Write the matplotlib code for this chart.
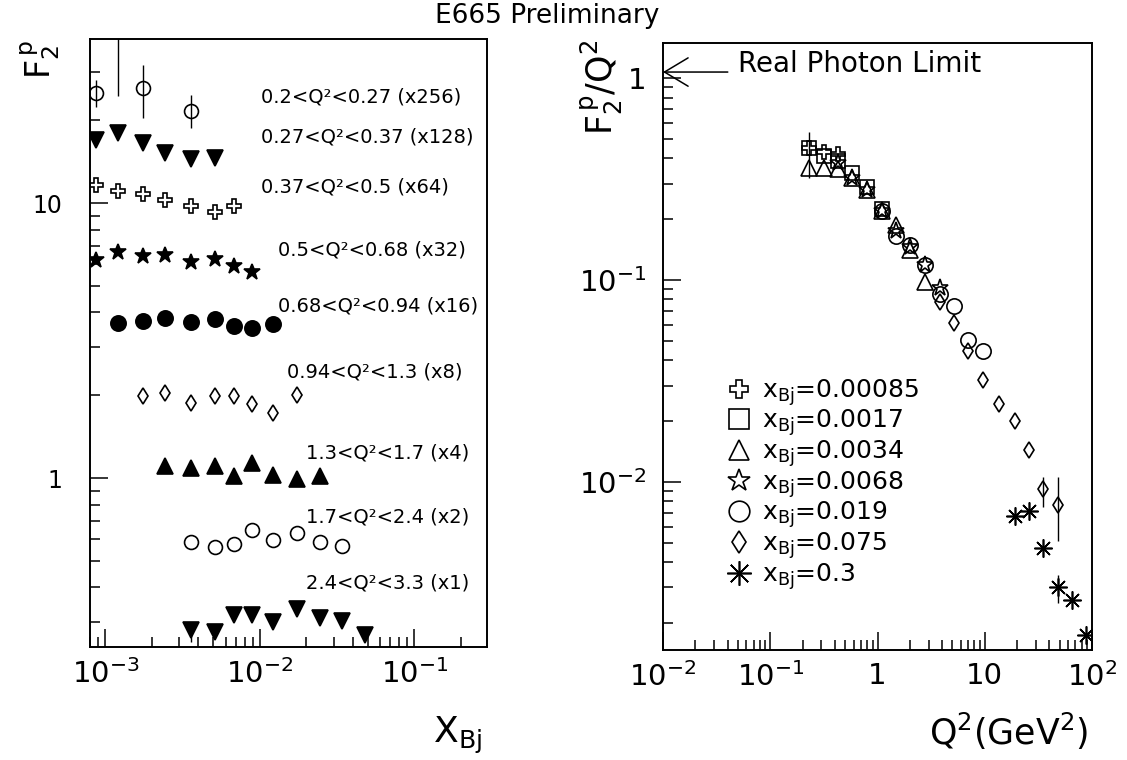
import numpy as np
import matplotlib
matplotlib.use("Agg")
import matplotlib.pyplot as plt
from matplotlib.ticker import FixedLocator, FixedFormatter, LogLocator, NullFormatter

plt.rcParams['font.family'] = ['DejaVu Sans']
plt.rcParams['mathtext.default'] = 'regular'

# ---------------- Left panel data: F2 vs x_Bj in Q^2 bins (scaled) ----------------
bin_labels = ["0.2<Q²<0.27 (x256)", "0.27<Q²<0.37 (x128)", "0.37<Q²<0.5 (x64)",
              "0.5<Q²<0.68 (x32)", "0.68<Q²<0.94 (x16)", "0.94<Q²<1.3 (x8)",
              "1.3<Q²<1.7 (x4)", "1.7<Q²<2.4 (x2)", "2.4<Q²<3.3 (x1)"]

x_b1 = [0.00087, 0.00121, 0.00175, 0.0036]
f2_b1 = [25.1, 50.0, 26.2, 21.6]
elo_b1 = [2.8, 25.5, 5.8, 2.9]
ehi_b1 = [2.9, 20.0, 5.6, 3.1]

x_b2 = [0.00087, 0.00121, 0.00175, 0.00242, 0.0036, 0.0051]
f2_b2 = [16.9, 18.0, 16.6, 15.2, 14.5, 14.6]

x_b3 = [0.00087, 0.00121, 0.00175, 0.00242, 0.0036, 0.0051, 0.0068]
f2_b3 = [11.6, 11.1, 10.8, 10.3, 9.75, 9.27, 9.75]

x_b4 = [0.00087, 0.00121, 0.00175, 0.00242, 0.0036, 0.0051, 0.0068, 0.0089]
f2_b4 = [6.2, 6.63, 6.41, 6.47, 6.1, 6.26, 5.9, 5.61]

x_b5 = [0.00121, 0.00175, 0.00242, 0.0036, 0.0051, 0.0068, 0.0089, 0.0121]
f2_b5 = [3.66, 3.72, 3.82, 3.69, 3.79, 3.57, 3.51, 3.63]

x_b6 = [0.00175, 0.00242, 0.0036, 0.0051, 0.0068, 0.0089, 0.0121, 0.0173]
f2_b6 = [1.98, 2.04, 1.87, 1.98, 1.98, 1.86, 1.73, 2.0]

x_b7 = [0.00242, 0.0036, 0.0051, 0.0068, 0.0089, 0.0121, 0.0173, 0.0245]
f2_b7 = [1.106, 1.084, 1.106, 1.017, 1.137, 1.025, 0.989, 1.017]

x_b8 = [0.0036, 0.0051, 0.0068, 0.0089, 0.0121, 0.0173, 0.0245, 0.034]
f2_b8 = [0.587, 0.5625, 0.575, 0.647, 0.595, 0.629, 0.584, 0.568]

x_b9 = [0.0036, 0.0051, 0.0068, 0.0089, 0.0121, 0.0173, 0.0245, 0.034, 0.048]
f2_b9 = [0.280, 0.276, 0.318, 0.318, 0.299, 0.333, 0.311, 0.303, 0.269]
elo_b9 = [0.026, 0, 0, 0, 0, 0, 0, 0, 0]
ehi_b9 = [0.020, 0, 0, 0, 0, 0, 0, 0, 0]

left_x_ticks = [1e-3, 1e-2, 1e-1]
left_x_ticklabels = [r'$10^{-3}$', r'$10^{-2}$', r'$10^{-1}$']
left_y_ticks = [1, 10]
left_y_ticklabels = ['1', '10']

# ---------------- Right panel data: F2/Q^2 vs Q^2 at fixed x_Bj ----------------
xbj_labels = [r'$x_{Bj}$=0.00085', r'$x_{Bj}$=0.0017', r'$x_{Bj}$=0.0034',
              r'$x_{Bj}$=0.0068', r'$x_{Bj}$=0.019', r'$x_{Bj}$=0.075', r'$x_{Bj}$=0.3']

q2_a = [0.23, 0.32, 0.43]
r_a = [0.45, 0.43, 0.42]
elo_a = [0.13, 0, 0]
ehi_a = [0.09, 0, 0]

q2_b = [0.23, 0.32, 0.43, 0.58, 0.80, 1.1]
r_b = [0.45, 0.41, 0.39, 0.34, 0.29, 0.225]

q2_c = [0.23, 0.32, 0.43, 0.58, 0.80, 1.1, 1.5, 2.0, 2.8]
r_c = [0.36, 0.36, 0.355, 0.32, 0.28, 0.22, 0.187, 0.141, 0.098]

q2_d = [0.43, 0.58, 0.80, 1.1, 1.5, 2.0, 2.8, 3.8]
r_d = [0.38, 0.32, 0.28, 0.22, 0.175, 0.145, 0.118, 0.091]

q2_e = [1.1, 1.5, 2.0, 2.8, 3.8, 5.2, 7.0, 9.6]
r_e = [0.22, 0.165, 0.149, 0.119, 0.085, 0.074, 0.0505, 0.0443]

q2_f = [3.8, 5.2, 7.0, 9.6, 13.5, 19, 26, 35, 48]
r_f = [0.078, 0.061, 0.0443, 0.0318, 0.0244, 0.0201, 0.0143, 0.0092, 0.0077]
elo_f = [0, 0, 0, 0, 0, 0, 0, 0.0017, 0.0026]
ehi_f = [0, 0, 0, 0, 0, 0, 0, 0.0014, 0.0029]

q2_g = [19, 26, 35, 48, 65, 87]
r_g = [0.0068, 0.0072, 0.0047, 0.0030, 0.0026, 0.00175]
elo_g = [0, 0, 0, 0.0005, 0, 0]
ehi_g = [0, 0, 0, 0.00047, 0, 0]

photon_limit = 1.07

right_x_ticks = [1e-2, 1e-1, 1, 10, 100]
right_x_ticklabels = [r'$10^{-2}$', r'$10^{-1}$', '1', '10', r'$10^{2}$']
right_y_ticks = [1e-2, 1e-1, 1]
right_y_ticklabels = [r'$10^{-2}$', r'$10^{-1}$', '1']

# ---------------- Figure ----------------
W, H = 1127, 760
fig = plt.figure(figsize=(W / 100, H / 100), dpi=100)
axL = fig.add_axes([90 / W, 1 - 647 / H, 397 / W, 608 / H])
axR = fig.add_axes([663 / W, 1 - 650 / H, 429 / W, 607 / H])

for ax in (axL, axR):
    ax.set_xscale('log')
    ax.set_yscale('log')
    for s in ax.spines.values():
        s.set_linewidth(1.4)
    ax.tick_params(which='both', direction='in', top=False, right=False, width=1.1)
    ax.tick_params(which='major', length=13)
    ax.tick_params(which='minor', length=7)
    ax.xaxis.set_minor_locator(LogLocator(base=10, subs=np.arange(2, 10)))
    ax.yaxis.set_minor_locator(LogLocator(base=10, subs=np.arange(2, 10)))
    ax.xaxis.set_minor_formatter(NullFormatter())
    ax.yaxis.set_minor_formatter(NullFormatter())

k = dict(ls='none', color='k', mec='k', mew=1.2)

# left panel series
axL.errorbar(x_b1, f2_b1, yerr=[elo_b1, ehi_b1], fmt='none', ecolor='k', elinewidth=1.0)
axL.plot(x_b1, f2_b1, marker='o', mfc='none', ms=10, **k)
axL.plot(x_b2, f2_b2, marker='v', mfc='k', ms=11, **k)
axL.plot(x_b3, f2_b3, marker='P', mfc='none', ms=10, **k)
axL.plot(x_b4, f2_b4, marker='*', mfc='k', ms=12, **k)
axL.plot(x_b5, f2_b5, marker='o', mfc='k', ms=11, **k)
axL.plot(x_b6, f2_b6, marker='d', mfc='none', ms=8.5, **k)
axL.plot(x_b7, f2_b7, marker='^', mfc='k', ms=11, **k)
axL.plot(x_b8, f2_b8, marker='o', mfc='none', ms=10, **k)
axL.errorbar(x_b9, f2_b9, yerr=[elo_b9, ehi_b9], fmt='none', ecolor='k', elinewidth=1.0)
axL.plot(x_b9, f2_b9, marker='v', mfc='k', ms=11, **k)

axL.set_xlim(7.95e-4, 0.295)
axL.set_ylim(0.243, 39.5)
axL.xaxis.set_major_locator(FixedLocator(left_x_ticks))
axL.xaxis.set_major_formatter(FixedFormatter(left_x_ticklabels))
axL.yaxis.set_major_locator(FixedLocator(left_y_ticks))
axL.yaxis.set_major_formatter(FixedFormatter(left_y_ticklabels))
axL.tick_params(axis='y', which='major', pad=20, labelsize=17)
axL.tick_params(axis='x', which='major', pad=9, labelsize=21)

label_pos = [(0.431, 0.905), (0.431, 0.839), (0.431, 0.757), (0.474, 0.653),
             (0.474, 0.561), (0.496, 0.452), (0.544, 0.319), (0.544, 0.214), (0.544, 0.105)]
for lab, (lx, ly) in zip(bin_labels, label_pos):
    axL.text(lx, ly, lab, transform=axL.transAxes, fontsize=14, ha='left', va='center')

# right panel series
axR.errorbar(q2_a, r_a, yerr=[elo_a, ehi_a], fmt='none', ecolor='k', elinewidth=1.0)
axR.errorbar(q2_f, r_f, yerr=[elo_f, ehi_f], fmt='none', ecolor='k', elinewidth=1.0)
axR.errorbar(q2_g, r_g, yerr=[elo_g, ehi_g], fmt='none', ecolor='k', elinewidth=1.0)
axR.plot(q2_a, r_a, marker='P', mfc='none', ms=10, label=xbj_labels[0], **k)
axR.plot(q2_b, r_b, marker='s', mfc='none', ms=10.5, label=xbj_labels[1], **k)
axR.plot(q2_c, r_c, marker='^', mfc='none', ms=11, label=xbj_labels[2], **k)
axR.plot(q2_d, r_d, marker='*', mfc='none', ms=12.5, label=xbj_labels[3], **k)
axR.plot(q2_e, r_e, marker='o', mfc='none', ms=11, label=xbj_labels[4], **k)
axR.plot(q2_f, r_f, marker='d', mfc='none', ms=8.5, label=xbj_labels[5], **k)
axR.plot(q2_g, r_g, marker=(8, 2, 0), ms=13, label=xbj_labels[6], **k)

axR.set_xlim(0.01, 100)
axR.set_ylim(0.00147, 1.49)
axR.xaxis.set_major_locator(FixedLocator(right_x_ticks))
axR.xaxis.set_major_formatter(FixedFormatter(right_x_ticklabels))
axR.yaxis.set_major_locator(FixedLocator(right_y_ticks))
axR.yaxis.set_major_formatter(FixedFormatter(right_y_ticklabels))
axR.tick_params(axis='y', which='major', pad=12, labelsize=21)
axR.tick_params(axis='x', which='major', pad=9, labelsize=21)

axR.annotate('', xy=(0.0, photon_limit), xytext=(0.151, photon_limit),
             xycoords=('axes fraction', 'data'), textcoords=('axes fraction', 'data'),
             arrowprops=dict(arrowstyle='->,head_length=1.0,head_width=0.6',
                             mutation_scale=17, lw=1.1, color='k', shrinkA=0, shrinkB=0))
axR.text(0.175, photon_limit * 1.1, 'Real Photon Limit', transform=axR.get_yaxis_transform(),
         fontsize=20, ha='left', va='center')

leg = axR.legend(loc='upper left', bbox_to_anchor=(0.1445, 0.45), frameon=False,
                 fontsize=18, markerscale=1.35, handlelength=1.1, handletextpad=0.4,
                 labelspacing=0.0, borderaxespad=0, borderpad=0, numpoints=1)

# titles and axis labels
fig.text(547 / W, 1 - 16 / H, 'E665 Preliminary', ha='center', va='center', fontsize=19)
fig.text(40 / W, 1 - 40 / H, r'$F_2^{\,p}$', rotation=90, ha='center', va='top', fontsize=24)
fig.text(602 / W, 1 - 40 / H, r'$F_2^{\,p}/Q^2$', rotation=90, ha='center', va='top', fontsize=25)
fig.text(482 / W, 1 - 743 / H, r'$X_{Bj}$', ha='right', va='baseline', fontsize=26)
fig.text(1088 / W, 1 - 745 / H, r'Q$^2$(GeV$^2$)', ha='right', va='baseline', fontsize=25)

fig.savefig('out.png', dpi=100)
